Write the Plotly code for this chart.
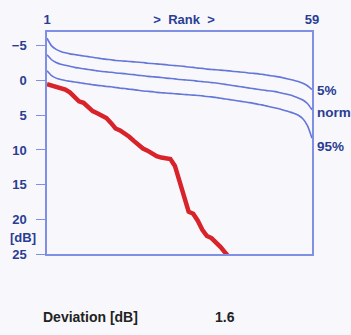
import plotly.graph_objects as go

ranks = list(range(1, 60))

pct5 = [-6.1, -5.0, -4.5, -4.2, -4.0, -3.85, -3.75, -3.65, -3.55, -3.45,
        -3.35, -3.25, -3.15, -3.05, -3.0, -2.9, -2.85, -2.8, -2.75, -2.7,
        -2.65, -2.6, -2.5, -2.45, -2.4, -2.35, -2.3, -2.2, -2.15, -2.1,
        -2.05, -1.95, -1.9, -1.8, -1.75, -1.65, -1.6, -1.55, -1.5, -1.45,
        -1.4, -1.3, -1.25, -1.2, -1.1, -1.05, -1.0, -0.9, -0.8, -0.7,
        -0.6, -0.5, -0.35, -0.2, -0.05, 0.15, 0.4, 0.75, 1.3]

norm = [-3.7, -3.0, -2.6, -2.35, -2.2, -2.05, -1.9, -1.8, -1.7, -1.6,
        -1.5, -1.4, -1.3, -1.25, -1.2, -1.1, -1.05, -1.0, -0.9, -0.85,
        -0.75, -0.7, -0.6, -0.55, -0.5, -0.45, -0.35, -0.3, -0.25, -0.15,
        -0.1, -0.05, 0.0, 0.1, 0.15, 0.2, 0.3, 0.35, 0.45, 0.55,
        0.65, 0.75, 0.85, 0.95, 1.05, 1.15, 1.25, 1.35, 1.45, 1.5,
        1.6, 1.75, 1.9, 2.05, 2.25, 2.5, 2.8, 3.3, 4.2]

pct95 = [-1.4, -0.7, -0.35, -0.15, 0.0, 0.1, 0.2, 0.3, 0.4, 0.5,
         0.6, 0.7, 0.75, 0.85, 0.9, 1.0, 1.1, 1.15, 1.25, 1.3,
         1.4, 1.5, 1.55, 1.6, 1.7, 1.75, 1.8, 1.85, 1.9, 1.95,
         2.0, 2.05, 2.1, 2.15, 2.2, 2.3, 2.35, 2.45, 2.55, 2.65,
         2.75, 2.85, 2.95, 3.05, 3.15, 3.25, 3.4, 3.5, 3.65, 3.8,
         3.95, 4.1, 4.3, 4.5, 4.7, 5.0, 5.5, 6.5, 8.3]

measured_ranks = list(range(1, 42))
measured = [0.5, 0.7, 0.9, 1.2, 1.3, 1.7, 2.4, 3.0, 3.2, 3.8,
            4.4, 4.7, 5.0, 5.4, 6.1, 6.9, 7.2, 7.6, 8.1, 8.7,
            9.3, 9.8, 10.1, 10.5, 10.9, 11.1, 11.2, 11.3, 12.3, 14.5,
            17.2, 18.9, 19.2, 20.2, 21.5, 22.4, 22.7, 23.3, 24.0, 24.8, 25.6]

y_ticks = [-5, 0, 5, 10, 15, 20, 25]
top_tickvals = [1, 31, 59]
top_ticktext = ["1", "&gt;  Rank  &gt;", "59"]
curve_labels = ["5%", "norm", "95%"]
curve_label_y = [1.4, 4.6, 9.5]
deviation_label = "Deviation [dB]"
deviation_db = 1.6

FONT = "Liberation Sans, Arial, sans-serif"
NAVY = "#2a3d94"
LINE = "#7f90e4"
CURVE = "#6476d8"
RED = "#d8232a"

fig = go.Figure()
for vals in (pct5, norm, pct95):
    fig.add_trace(go.Scatter(x=ranks, y=vals, mode="lines",
                             line=dict(color=CURVE, width=1.6, shape="spline", smoothing=0.6),
                             hoverinfo="skip", showlegend=False))
fig.add_trace(go.Scatter(x=measured_ranks, y=measured, mode="lines",
                         line=dict(color=RED, width=4.5),
                         hoverinfo="skip", showlegend=False))

fig.update_layout(
    width=351, height=335,
    margin=dict(l=43, r=39, t=25, b=81),
    paper_bgcolor="#f8f8fc", plot_bgcolor="#f8f8fc",
    showlegend=False,
    font=dict(family=FONT, color=NAVY, size=13),
    xaxis=dict(range=[1, 59], side="top", tickvals=top_tickvals, ticktext=top_ticktext,
               ticks="", showgrid=False, zeroline=False, showline=True, linecolor=LINE,
               linewidth=1.5, mirror=True, ticklabelstandoff=1,
               tickfont=dict(family=FONT, color=NAVY, size=13, weight="bold")),
    yaxis=dict(range=[25, -7], tickvals=y_ticks, ticks="outside", ticklen=9,
               tickcolor=LINE, tickwidth=1.2, showgrid=False, zeroline=False,
               showline=True, linecolor=LINE, linewidth=1.5, mirror=True,
               ticklabelstandoff=7,
               tickfont=dict(family=FONT, color=NAVY, size=13, weight="bold")),
)

for txt, yv in zip(curve_labels, curve_label_y):
    fig.add_annotation(x=1.012, xref="paper", y=yv, yref="y", text=txt, showarrow=False,
                       xanchor="left", yanchor="middle",
                       font=dict(family=FONT, color=NAVY, size=13.5, weight="bold"))

fig.add_annotation(x=-0.035, xref="paper", y=22.6, yref="y", text="[dB]", showarrow=False,
                   xanchor="right", yanchor="middle",
                   font=dict(family=FONT, color=NAVY, size=13, weight="bold"))

fig.add_annotation(x=-0.021, xref="paper", y=-0.283, yref="paper", text=deviation_label,
                   showarrow=False, xanchor="left", yanchor="middle",
                   font=dict(family=FONT, color="#222222", size=14, weight="bold"))
fig.add_annotation(x=0.628, xref="paper", y=-0.283, yref="paper", text=str(deviation_db),
                   showarrow=False, xanchor="left", yanchor="middle",
                   font=dict(family=FONT, color="#222222", size=14, weight="bold"))

fig.write_html("out.html")
